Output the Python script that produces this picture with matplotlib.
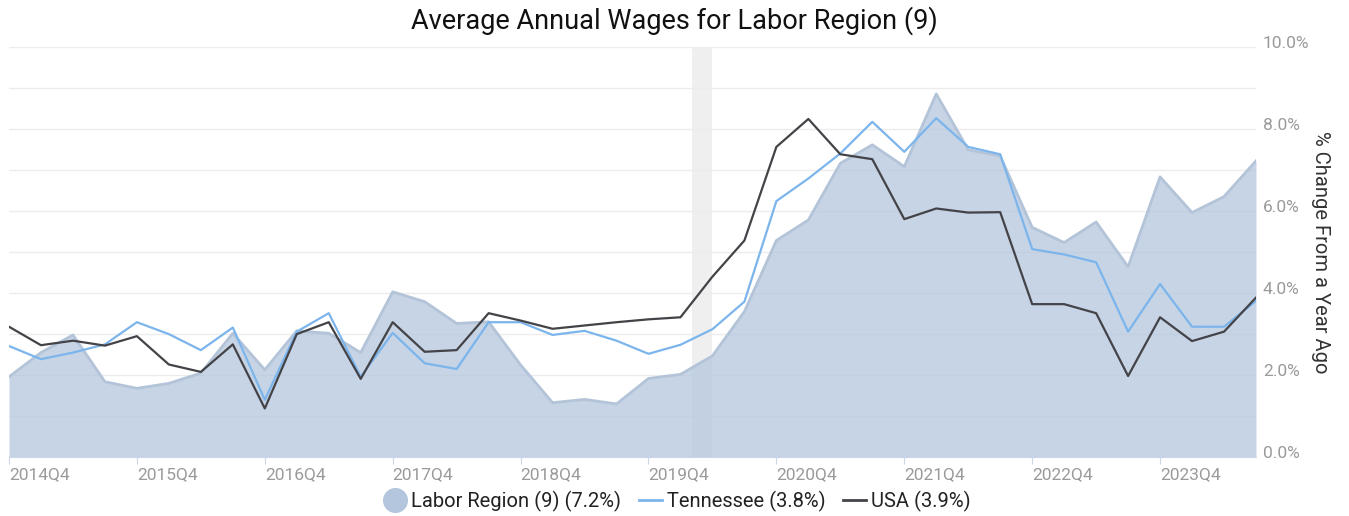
import matplotlib.pyplot as plt
from matplotlib.transforms import ScaledTranslation
from matplotlib.lines import Line2D

plt.rcParams['font.family'] = ['Roboto', 'DejaVu Sans']

quarters = []
for yr in range(2014, 2025):
    for q in range(1, 5):
        if (yr, q) >= (2014, 4) and (yr, q) <= (2024, 3):
            quarters.append(f"{yr}Q{q}")

region = [1.96, 2.55, 2.98, 1.84, 1.68, 1.80, 2.05, 3.02, 2.13, 3.08,
          3.02, 2.55, 4.03, 3.79, 3.26, 3.30, 2.25, 1.33, 1.41, 1.30,
          1.92, 2.02, 2.47, 3.55, 5.28, 5.78, 7.16, 7.61, 7.08, 8.85,
          7.49, 7.34, 5.60, 5.23, 5.73, 4.64, 6.83, 5.96, 6.35, 7.22]
tennessee = [2.71, 2.39, 2.55, 2.75, 3.29, 3.00, 2.61, 3.16, 1.40, 3.06,
             3.51, 1.96, 3.03, 2.29, 2.15, 3.29, 3.29, 2.98, 3.08, 2.84,
             2.52, 2.74, 3.12, 3.79, 6.24, 6.79, 7.40, 8.17, 7.44, 8.26,
             7.56, 7.38, 5.07, 4.94, 4.75, 3.06, 4.22, 3.18, 3.18, 3.81]
usa = [3.18, 2.73, 2.84, 2.72, 2.95, 2.26, 2.08, 2.75, 1.19, 3.00,
       3.29, 1.91, 3.29, 2.57, 2.61, 3.51, 3.33, 3.13, 3.21, 3.29,
       3.36, 3.41, 4.40, 5.28, 7.56, 8.24, 7.38, 7.26, 5.80, 6.06,
       5.96, 5.97, 3.73, 3.73, 3.51, 1.98, 3.41, 2.83, 3.06, 3.89]

# recession band (quarter index units)
recession = (21.35, 22.0)

fig = plt.figure(figsize=(13.49, 5.16), dpi=100)
ax = fig.add_axes([9 / 1349, 1 - 457.3 / 516, (1256 - 9) / 1349, (457.3 - 46.7) / 516])

x = list(range(len(quarters)))

ax.axvspan(recession[0], recession[1], color='#efefef', zorder=0, lw=0)
ax.fill_between(x, region, 0, color='#b3c6dd', alpha=0.75, lw=0, zorder=1)
ax.plot(x, region, color='#b3c4d9', lw=2, zorder=2)
ax.plot(x, tennessee, color='#7cb5ec', lw=1.6, zorder=3)
ax.plot(x, usa, color='#434348', lw=1.6, zorder=4)

ax.set_xlim(0, len(quarters) - 1)
ax.set_ylim(0, 10)

ax.set_yticks(range(0, 11, 2))
ax.set_yticks(range(1, 11, 2), minor=True)
ax.set_yticklabels([f"{v:.1f}%" for v in range(0, 11, 2)])
ax.yaxis.tick_right()
ax.yaxis.set_label_position('right')
ax.grid(axis='y', which='both', color='#ececec', lw=1, zorder=0)
ax.tick_params(axis='y', which='both', length=0, pad=5, labelsize=12.5, labelcolor='#9a9a9a')
for lab in ax.get_yticklabels():
    lab.set_transform(lab.get_transform() + ScaledTranslation(0, 5 / 100, fig.dpi_scale_trans))

ax.set_xticks(x[::4])
ax.set_xticklabels(quarters[::4], ha='left')
ax.tick_params(axis='x', length=5, color='#ccd6eb', pad=2, labelsize=12.5, labelcolor='#9a9a9a')

for s in ['top', 'left', 'right']:
    ax.spines[s].set_visible(False)
ax.spines['bottom'].set_color('#ccd6eb')
ax.set_axisbelow(True)

ax.set_ylabel('% Change From a Year Ago', rotation=270, labelpad=15, fontsize=14.5, color='#333333')
fig.text(0.5, 0.96, 'Average Annual Wages for Labor Region (9)', ha='center', va='center',
         fontsize=19.5, color='#111111')

handles = [
    Line2D([], [], marker='o', ls='none', markersize=17, color='#b3c6dd'),
    Line2D([], [], color='#7cb5ec', lw=2),
    Line2D([], [], color='#434348', lw=2),
]
labels = ['Labor Region (9) (7.2%)', 'Tennessee (3.8%)', 'USA (3.9%)']
fig.legend(handles, labels, loc='center', bbox_to_anchor=(0.502, 0.029), ncol=3, frameon=False,
           fontsize=14.5, handlelength=1.1, handletextpad=0.25, columnspacing=0.9, labelcolor='#222222')

fig.savefig('out.png', dpi=100)
